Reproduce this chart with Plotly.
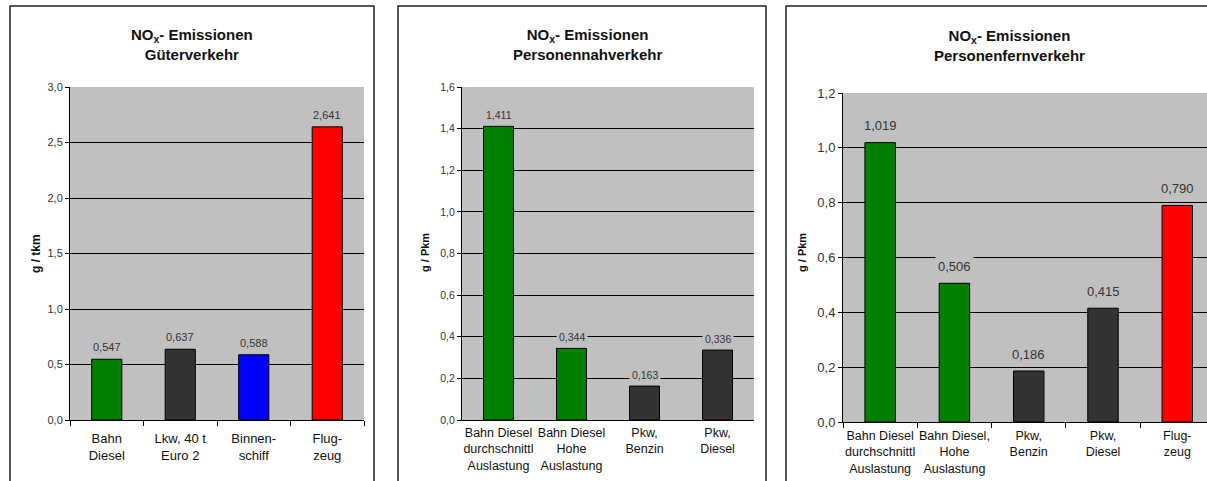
import plotly.graph_objects as go

W, H = 1207, 481

# ---------------- data ----------------
cats_gueter = ["Bahn<br>Diesel", "Lkw, 40 t<br>Euro 2", "Binnen-<br>schiff", "Flug-<br>zeug"]
vals_gueter = [0.547, 0.637, 0.588, 2.641]

cats_nah = ["Bahn Diesel<br>durchschnittl<br>Auslastung", "Bahn Diesel<br>Hohe<br>Auslastung",
            "Pkw,<br>Benzin", "Pkw,<br>Diesel"]
vals_nah = [1.411, 0.344, 0.163, 0.336]

cats_fern = ["Bahn Diesel<br>durchschnittl<br>Auslastung", "Bahn Diesel,<br>Hohe<br>Auslastung",
             "Pkw,<br>Benzin", "Pkw,<br>Diesel", "Flug-<br>zeug"]
vals_fern = [1.019, 0.506, 0.186, 0.415, 0.790]

ticks_gueter = [0.0, 0.5, 1.0, 1.5, 2.0, 2.5, 3.0]
ticks_nah = [0.0, 0.2, 0.4, 0.6, 0.8, 1.0, 1.2, 1.4, 1.6]
ticks_fern = [0.0, 0.2, 0.4, 0.6, 0.8, 1.0, 1.2]

titles = ["NO<sub>x</sub>- Emissionen<br>Güterverkehr",
          "NO<sub>x</sub>- Emissionen<br>Personennahverkehr",
          "NO<sub>x</sub>- Emissionen<br>Personenfernverkehr"]
units = ["g / tkm", "g / Pkm", "g / Pkm"]

# ---------------- style ----------------
GREEN, DARK, BLUE, RED = "#008000", "#333333", "#0000ff", "#ff0000"
col_gueter = [GREEN, DARK, BLUE, RED]
col_nah = [GREEN, GREEN, DARK, DARK]
col_fern = [GREEN, GREEN, DARK, DARK, RED]
FONT = "Liberation Sans, Arial, sans-serif"
BG = "#c0c0c0"


def px(x):
    return x / W


def py(y):
    return 1 - y / H


panels = [
    dict(cats=cats_gueter, vals=vals_gueter, cols=col_gueter, ticks=ticks_gueter,
         xd=[px(70), px(364)], yd=[py(420), py(87)], xr=None,
         tickfs=11, labfs=11, xfs=13, lshift=12, xticks="outside", xstand=6,
         title_x=192, title_y=45, unit_x=36, unit_y=254, unitfs=12,
         box=(10, 374)),
    dict(cats=cats_nah, vals=vals_nah, cols=col_nah, ticks=ticks_nah,
         xd=[px(462), px(754)], yd=[py(420), py(87)], xr=None,
         tickfs=10.5, labfs=10.5, xfs=12.5, lshift=11, xticks="", xstand=1,
         title_x=587, title_y=45, unit_x=425, unit_y=252, unitfs=11,
         box=(398, 766)),
    dict(cats=cats_fern, vals=vals_fern, cols=col_fern, ticks=ticks_fern,
         xd=[px(843), 1.0], yd=[py(422), py(93)], xr=[-0.5, 4.40],
         tickfs=13, labfs=13, xfs=12.5, lshift=17, xticks="outside", xstand=2,
         title_x=1010, title_y=45.5, unit_x=802, unit_y=253, unitfs=11,
         box=(786, 1230)),
]

fig = go.Figure()
annotations = []
shapes = []

for i, p in enumerate(panels, start=1):
    xa = "x" if i == 1 else f"x{i}"
    ya = "y" if i == 1 else f"y{i}"
    fig.add_trace(go.Bar(
        x=p["cats"], y=p["vals"], xaxis=xa, yaxis=ya,
        marker=dict(color=p["cols"], line=dict(color="black", width=1)),
        width=0.41, showlegend=False, hoverinfo="skip",
    ))
    ymax = p["ticks"][-1]
    xkey = "xaxis" if i == 1 else f"xaxis{i}"
    ykey = "yaxis" if i == 1 else f"yaxis{i}"
    xaxis = dict(domain=p["xd"], anchor=ya, type="category", showline=True,
                 linecolor="black", linewidth=1, showgrid=False, automargin=False,
                 ticks=p["xticks"], tickson="boundaries", ticklen=5, tickcolor="black",
                 tickangle=0, ticklabelstandoff=p["xstand"],
                 tickfont=dict(family=FONT, size=p["xfs"], color="#111"))
    if p["xr"] is not None:
        xaxis["range"] = p["xr"]
    yaxis = dict(domain=p["yd"], anchor=xa, range=[0, ymax], showline=True,
                 linecolor="black", linewidth=1, showgrid=False, zeroline=False,
                 automargin=False,
                 tickmode="array", tickvals=p["ticks"], tickformat=".1f",
                 ticks="outside", ticklen=4, tickcolor="black",
                 tickfont=dict(family=FONT, size=p["tickfs"], color="#333"),
                 minor=dict(tickmode="array", tickvals=p["ticks"][1:-1], showgrid=True,
                            gridcolor="black", gridwidth=1, ticks=""))
    fig.update_layout({xkey: xaxis, ykey: yaxis})

    # data labels
    for c, v in zip(p["cats"], p["vals"]):
        annotations.append(dict(
            x=c, y=v, xref=xa, yref=ya, text=f"{v:.3f}".replace(".", ","),
            showarrow=False, yanchor="middle", yshift=p["lshift"],
            bgcolor=BG, borderpad=2,
            font=dict(family=FONT, size=p["labfs"], color="#333")))
    # title
    annotations.append(dict(
        x=px(p["title_x"]), y=py(p["title_y"]), xref="paper", yref="paper",
        text=f"<b>{titles[i-1]}</b>", showarrow=False, xanchor="center", yanchor="middle",
        font=dict(family=FONT, size=15, color="#111")))
    # unit
    annotations.append(dict(
        x=px(p["unit_x"]), y=py(p["unit_y"]), xref="paper", yref="paper",
        text=f"<b>{units[i-1]}</b>", showarrow=False, textangle=-90,
        xanchor="center", yanchor="middle",
        font=dict(family=FONT, size=p["unitfs"], color="#111")))
    # panel frame
    x0, x1 = p["box"]
    shapes.append(dict(type="rect", xref="paper", yref="paper",
                       x0=px(x0), x1=px(x1), y0=-0.1, y1=py(6),
                       line=dict(color="#222", width=1.5), fillcolor="rgba(0,0,0,0)"))

fig.update_layout(
    width=W, height=H, margin=dict(l=0, r=0, t=0, b=0, autoexpand=False),
    paper_bgcolor="white", plot_bgcolor=BG, separators=",.",
    annotations=annotations, shapes=shapes, showlegend=False,
)

fig.write_html(
    "out.html",
    config={"displayModeBar": False, "responsive": False},
    post_script=(
        "document.documentElement.style.margin='0';"
        "document.documentElement.style.padding='0';"
        "document.documentElement.style.overflow='hidden';"
        "document.body.style.margin='0';document.body.style.padding='0';"
        "document.body.style.overflow='hidden';"
        "var gd=document.getElementById('{plot_id}');"
        "gd.style.position='fixed';gd.style.top='0px';gd.style.left='0px';"
    ),
)
